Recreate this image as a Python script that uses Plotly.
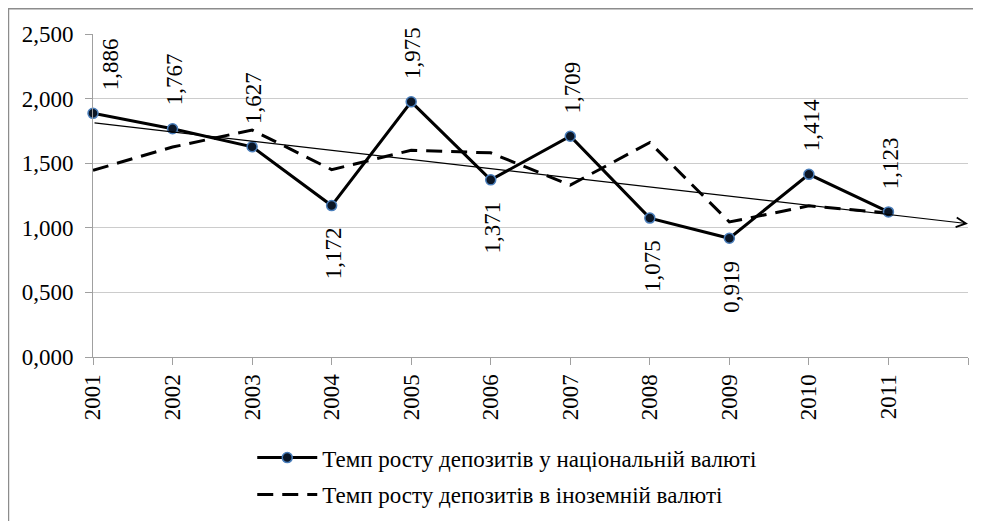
import plotly.graph_objects as go

years = [2001, 2002, 2003, 2004, 2005, 2006, 2007, 2008, 2009, 2010, 2011]
national = [1.886, 1.767, 1.627, 1.172, 1.975, 1.371, 1.709, 1.075, 0.919, 1.414, 1.123]
foreign = [1.445, 1.625, 1.757, 1.450, 1.600, 1.580, 1.330, 1.660, 1.045, 1.170, 1.115]
trend_years = [2001, 2012]
trend_values = [1.813, 1.032]
x_ticks = years + [2012]
x_tick_labels = [str(y) for y in years] + [""]
y_ticks = [0, 0.5, 1.0, 1.5, 2.0, 2.5]
y_tick_labels = ["0,000", "0,500", "1,000", "1,500", "2,000", "2,500"]
national_name = "Темп росту депозитів у національній валюті"
foreign_name = "Темп росту депозитів в іноземній валюті"

FONT = "Times New Roman, Liberation Serif, serif"
label_below = {2004, 2006, 2008, 2009}

fig = go.Figure()
fig.add_trace(go.Scatter(
    x=years, y=foreign, mode="lines", name=foreign_name,
    line=dict(color="black", width=3, dash="16px,9px"),
    legendgroup="b", legendrank=2, cliponaxis=False))
fig.add_trace(go.Scatter(
    x=years, y=national, mode="lines+markers", name=national_name,
    line=dict(color="black", width=3),
    marker=dict(symbol="circle", size=10, color="#0b1626",
                line=dict(color="#4a7ebb", width=1.5)),
    legendgroup="a", legendrank=1, cliponaxis=False))

# trend line with arrow
fig.add_annotation(
    x=trend_years[1], y=trend_values[1], ax=trend_years[0], ay=trend_values[0],
    xref="x", yref="y", axref="x", ayref="y", text="",
    showarrow=True, arrowhead=5, arrowsize=1.6, arrowwidth=1.2, arrowcolor="black")

# data labels
for yr, v in zip(years, national):
    below = yr in label_below
    fig.add_annotation(
        x=yr, y=v, xref="x", yref="y", showarrow=False,
        text=f"{v:.3f}".replace(".", ","), textangle=-90,
        font=dict(family=FONT, size=23, color="black"),
        yanchor="top" if below else "bottom",
        yshift=-20 if below else 21,
        xshift=17 if yr == 2001 else 2)

# outer frame (only top and left edges are visible)
fig.add_shape(type="rect", xref="paper", yref="paper",
              x0=-0.0966, x1=1.2, y0=-0.6, y1=1.078,
              line=dict(color="#8c8c8c", width=1.5))

fig.update_layout(
    width=981, height=521,
    margin=dict(l=85, r=21, t=26, b=172),
    plot_bgcolor="white", paper_bgcolor="white",
    font=dict(family=FONT, size=23, color="black"),
    showlegend=True,
    legend=dict(orientation="v", x=0.182, xanchor="left", y=-0.245, yanchor="top",
                tracegroupgap=4, itemwidth=60, font=dict(size=23)),
)
fig.update_xaxes(
    range=[2001, 2012], tickvals=x_ticks, ticktext=x_tick_labels, automargin=False,
    tickangle=-90, ticks="outside", ticklen=7, tickcolor="#a0a0a0",
    showline=True, linecolor="#a0a0a0", linewidth=1, showgrid=False, zeroline=False)
fig.update_yaxes(
    range=[0, 2.5], tickvals=y_ticks, ticktext=y_tick_labels, automargin=False,
    ticks="outside", ticklen=7, tickcolor="#a0a0a0", ticklabelstandoff=7,
    showline=True, linecolor="#a0a0a0", linewidth=1,
    showgrid=True, gridcolor="#cccccc", gridwidth=1, zeroline=False)

fig.write_html("out.html")
